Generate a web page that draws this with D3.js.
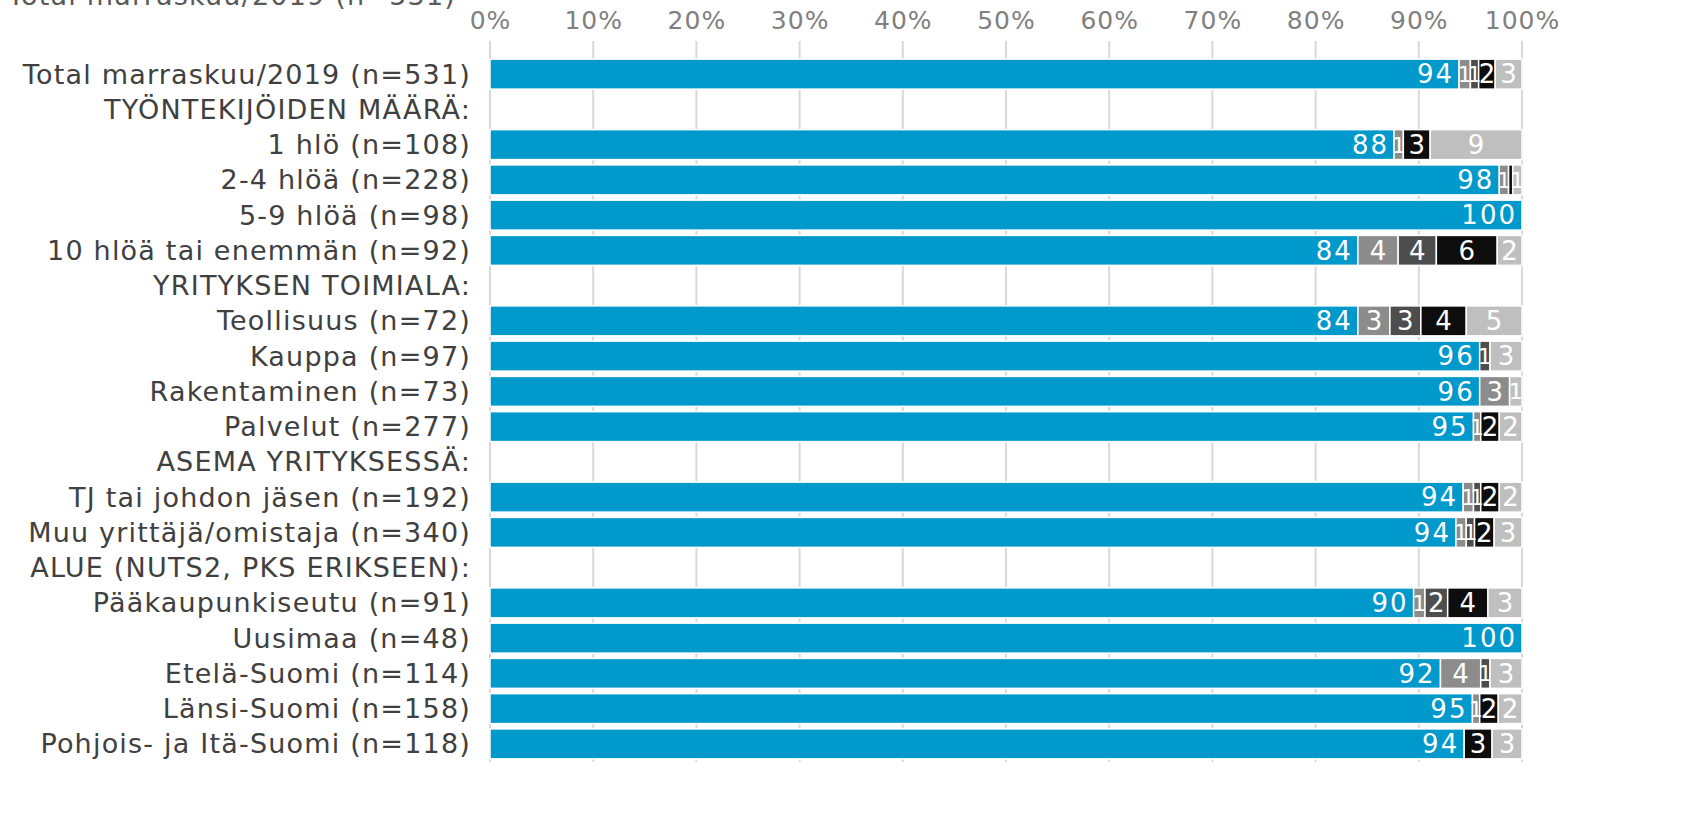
<!DOCTYPE html>
<html>
<head>
<meta charset="utf-8">
<script src="https://cdn.jsdelivr.net/npm/d3@7"></script>
<style>
  body { margin: 0; background: #fff; }
  svg { display: block; font-family: "DejaVu Sans", Verdana, sans-serif; }
</style>
</head>
<body>
<svg id="chart" width="1700" height="825"></svg>
<script>
// rivit (null = väliotsikko ilman palkkia)
const categories = [
  "Total marraskuu/2019 (n=531)",
  "TYÖNTEKIJÖIDEN MÄÄRÄ:",
  "1 hlö (n=108)",
  "2-4 hlöä (n=228)",
  "5-9 hlöä (n=98)",
  "10 hlöä tai enemmän (n=92)",
  "YRITYKSEN TOIMIALA:",
  "Teollisuus (n=72)",
  "Kauppa (n=97)",
  "Rakentaminen (n=73)",
  "Palvelut (n=277)",
  "ASEMA YRITYKSESSÄ:",
  "TJ tai johdon jäsen (n=192)",
  "Muu yrittäjä/omistaja (n=340)",
  "ALUE (NUTS2, PKS ERIKSEEN):",
  "Pääkaupunkiseutu (n=91)",
  "Uusimaa (n=48)",
  "Etelä-Suomi (n=114)",
  "Länsi-Suomi (n=158)",
  "Pohjois- ja Itä-Suomi (n=118)"
];

const s1 = [93.9, null, 87.6, 97.8, 100, 84.1, null, 84.1, 95.9, 95.9, 95.3, null, 94.3, 93.6, null, 89.5, 100, 92.1, 95.2, 94.4];
const s2 = [1.1, null, 0.9, 0.9, 0, 3.9, null, 3.1, 0, 2.9, 0.7, null, 1.0, 1.0, null, 1.1, 0, 3.9, 0.7, 0];
const s3 = [0.8, null, 0, 0, 0, 3.7, null, 3.0, 1.0, 0, 0, null, 0.7, 0.8, null, 2.2, 0, 0.9, 0, 0];
const s4 = [1.6, null, 2.6, 0.4, 0, 5.9, null, 4.4, 0, 0, 1.8, null, 1.8, 1.9, null, 3.9, 0, 0, 1.8, 2.7];
const s5 = [2.6, null, 8.9, 0.9, 0, 2.4, null, 5.4, 3.1, 1.2, 2.2, null, 2.2, 2.7, null, 3.3, 0, 3.1, 2.3, 2.9];

const seriesColors = ["#0099cc", "#8c8c8c", "#4d4d4d", "#0d0d0d", "#bfbfbf"];
const ticks = [0, 10, 20, 30, 40, 50, 60, 70, 80, 90, 100];

const svg = d3.select("#chart");
const x0 = 490, x1 = 1522;

const x = d3.scaleLinear().domain([0, 100]).range([x0, x1]);
const y = d3.scaleBand().domain(categories).range([56.5, 761.5]).paddingInner(0.15).paddingOuter(0.075);

// katkennut otsikko ylhäällä
svg.append("text")
  .attr("x", 456).attr("y", 5)
  .attr("text-anchor", "end")
  .attr("fill", "#595959")
  .attr("font-size", "27px")
  .attr("letter-spacing", "1.2px")
  .text("Total marraskuu/2019 (n=531)");

// Gridlines
svg.append("g")
  .selectAll("line")
  .data(ticks)
  .join("line")
  .attr("x1", d => x(d)).attr("x2", d => x(d))
  .attr("y1", 41).attr("y2", 762)
  .attr("stroke", "#d9d9d9").attr("stroke-width", 2);

// Akselin tekstit
const axis = d3.axisTop(x).tickValues(ticks).tickFormat(d => d + "%").tickSize(0).tickPadding(0);
const ax = svg.append("g").attr("transform", "translate(0,29)").call(axis);
ax.select(".domain").remove();
ax.selectAll("text")
  .attr("font-size", "25px")
  .attr("letter-spacing", "1px")
  .attr("font-family", "DejaVu Sans, sans-serif")
  .attr("fill", "#808080");

// Kategoriat
svg.append("g")
  .selectAll("text")
  .data(categories)
  .join("text")
  .attr("x", 471)
  .attr("y", d => y(d) + y.bandwidth() / 2)
  .attr("dy", "0.35em")
  .attr("text-anchor", "end")
  .attr("fill", "#404040")
  .attr("font-size", "27px")
  .attr("letter-spacing", "1.2px")
  .text(d => d);

// Pinotut palkit
const rows = categories.map((c, i) => ({ cat: c, vals: [s1[i], s2[i], s3[i], s4[i], s5[i]] }))
  .filter(r => r.vals[0] !== null);

const segs = [];
rows.forEach(r => {
  let acc = 0;
  r.vals.forEach((v, k) => {
    segs.push({ cat: r.cat, k, v, a: acc, b: acc + v });
    acc += v;
  });
});

const bars = svg.append("g");
bars.selectAll("rect")
  .data(segs.filter(d => d.v > 0))
  .join("rect")
  .attr("x", d => x(d.a))
  .attr("y", d => y(d.cat))
  .attr("width", d => x(d.b) - x(d.a))
  .attr("height", y.bandwidth())
  .attr("fill", d => seriesColors[d.k])
  .attr("stroke", "#fff")
  .attr("stroke-width", 1.5);

bars.selectAll("text")
  .data(segs.filter(d => d.v >= 0.5))
  .join("text")
  .attr("x", d => d.k === 0 ? x(d.b) - 5 : (x(d.a) + x(d.b)) / 2)
  .attr("y", d => y(d.cat) + y.bandwidth() / 2)
  .attr("dy", "0.36em")
  .attr("text-anchor", d => d.k === 0 ? "end" : "middle")
  .attr("fill", "#fff")
  .attr("font-size", d => (d.k > 0 && d.v < 1.5) ? "22px" : "26px")
  .attr("letter-spacing", d => d.k === 0 ? "2px" : "0px")
  .text(d => Math.round(d.v));
</script>
</body>
</html>
